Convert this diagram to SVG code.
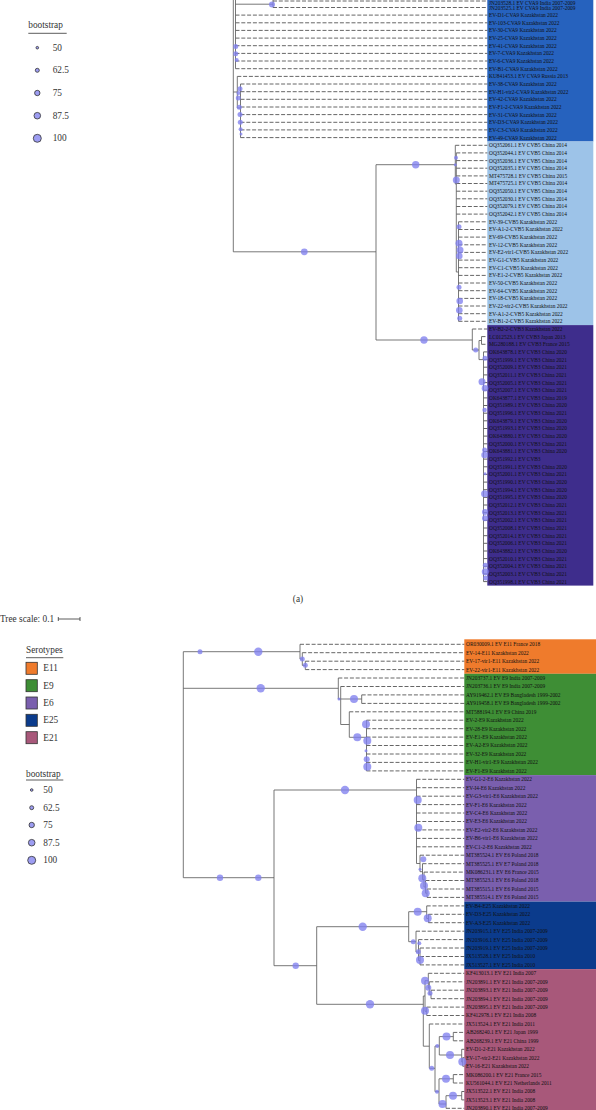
<svg xmlns="http://www.w3.org/2000/svg" width="596" height="1110" viewBox="0 0 596 1110">
<style>
.lb{font-family:"Liberation Serif",serif;font-size:5.4px;fill:#111}
.lg{font-family:"Liberation Serif",serif;font-size:9.3px;fill:#333}
.br{fill:none;stroke:#5f5f5f;stroke-width:0.85}
.ds{fill:none;stroke:#333;stroke-width:0.75;stroke-dasharray:4 1.8}
.bs{fill:#8080ee;fill-opacity:0.78}
.lgd{fill:#9d9df2;stroke:#333;stroke-width:0.8}
.ul{stroke:#333;stroke-width:0.8}
.sw{stroke:#333;stroke-width:0.8}
</style>
<rect width="596" height="1110" fill="#fff"/>
<g id="boxes">
<rect x="487.3" y="-2" width="106" height="143.5" fill="#2662be"/>
<rect x="487.3" y="141.5" width="106" height="183.6" fill="#9dc3e8"/>
<rect x="487.3" y="325.1" width="106" height="260.5" fill="#3e2d8c"/>
<rect x="464.3" y="639.3" width="131.7" height="34.5" fill="#ef7b2c"/>
<rect x="464.3" y="673.8" width="131.7" height="101.3" fill="#3e8e35"/>
<rect x="464.3" y="775.1" width="131.7" height="126.5" fill="#7a5fae"/>
<rect x="464.3" y="901.6" width="131.7" height="67.5" fill="#0b3b8c"/>
<rect x="464.3" y="969.1" width="131.7" height="145" fill="#a8587a"/>
</g>
<g id="connectors">
<path class="ds" d="M273 1H487.3M273 7.5H487.3M235.5 15.1H487.3M235.5 22.8H487.3M235.5 30.4H487.3M235.5 38.1H487.3M235.5 45.7H487.3M235.5 53.4H487.3M235.5 61H487.3M235.5 68.7H487.3M237.3 76.4H487.3M240.5 84H487.3M240.5 91.7H487.3M240.5 99.3H487.3M240.5 107H487.3M240.5 114.6H487.3M240.5 122.3H487.3M240.5 129.9H487.3M240.5 137.6H487.3M455.3 145.3H487.3M456.3 152.9H487.3M456.3 160.6H487.3M456.3 168.2H487.3M456.3 175.9H487.3M456.3 183.5H487.3M456.3 191.2H487.3M456.3 198.8H487.3M456.3 206.5H487.3M456.3 214.1H487.3M458.5 221.8H487.3M458.5 229.5H487.3M458.5 237.1H487.3M458.5 244.8H487.3M458.5 252.4H487.3M458.5 260.1H487.3M458.5 267.7H487.3M458.5 275.4H487.3M458.5 283H487.3M458.5 290.7H487.3M458.5 298.4H487.3M458.5 306H487.3M458.5 313.7H487.3M458.5 321.3H487.3M472.3 329H487.3M481.5 336.6H487.3M481.5 344.3H487.3M483.5 351.9H487.3M483.5 359.6H487.3M483.5 367.2H487.3M483.5 374.9H487.3M483.5 382.6H487.3M483.5 390.2H487.3M483.5 397.9H487.3M483.5 405.5H487.3M483.5 413.2H487.3M483.5 420.8H487.3M483.5 428.5H487.3M483.5 436.1H487.3M483.5 443.8H487.3M483.5 451.5H487.3M483.5 459.1H487.3M483.5 466.8H487.3M483.5 474.4H487.3M483.5 482.1H487.3M483.5 489.7H487.3M483.5 497.4H487.3M483.5 505H487.3M483.5 512.7H487.3M483.5 520.3H487.3M483.5 528H487.3M483.5 535.7H487.3M483.5 543.3H487.3M483.5 551H487.3M483.5 558.6H487.3M483.5 566.3H487.3M483.5 573.9H487.3M483.5 581.6H487.3"/>
<path class="br" d="M233.3 0V251.8M233.3 251.8H376M376 164.7V340M376 164.7H455.3M376 340H472.3M235.5 0V68.7M235.5 4.2H273M273 0V7.5M233.3 92H237.3M237.3 76.4V108M237.3 108H240.5M240.5 84V137.6M455.3 145.3V184M455.3 184H456.3M456.3 152.9V272M456.3 272H458.5M458.5 221.8V321.3M472.3 329V350M472.3 350H479M479 340.5V359.6M479 340.5H481.5M481.5 336.6V344.3M479 359.6H483.5M483.5 351.9V581.6"/>
<path class="ds" d="M300 644.3H464.3M302.3 652.7H464.3M305.3 661.2H464.3M305.3 669.6H464.3M338.3 678H464.3M340.7 686.5H464.3M361.7 694.9H464.3M361.7 703.4H464.3M349.3 711.8H464.3M366.5 720.2H464.3M366.5 728.7H464.3M366.5 737.1H464.3M366.5 745.5H464.3M366.5 754H464.3M366.5 762.4H464.3M366.5 770.9H464.3M416.5 779.3H464.3M416.5 787.7H464.3M416.5 796.2H464.3M416.5 804.6H464.3M416.5 813H464.3M416.5 821.5H464.3M416.5 829.9H464.3M416.5 838.4H464.3M416.5 846.8H464.3M420 855.2H464.3M422.5 863.7H464.3M424 872.1H464.3M425.5 880.5H464.3M427 889H464.3M427 897.4H464.3M426.7 905.9H464.3M428.5 914.3H464.3M428.5 922.7H464.3M416 931.2H464.3M418.5 939.6H464.3M420 948H464.3M420 956.5H464.3M420 964.9H464.3M428.3 973.3H464.3M429.3 981.8H464.3M431 990.2H464.3M431 998.7H464.3M426.7 1007.1H464.3M426.7 1015.5H464.3M429.3 1024H464.3M453.3 1032.4H464.3M453.3 1040.8H464.3M461.7 1049.3H464.3M462.7 1057.7H464.3M462.7 1066.2H464.3M453.3 1074.6H464.3M453.3 1083H464.3M461.7 1091.5H464.3M461.7 1099.9H464.3M446 1108.3H464.3"/>
<path class="br" d="M183.3 651.7V877.7M183.3 651.7H300M300 644.3V659M300 659H302.3M302.3 652.7V665.4M302.3 665.4H305.3M305.3 661.2V669.6M183.3 688.3H338.3M338.3 678V699M338.3 699H361.7M340.7 686.5V724.5M361.7 694.9V703.4M340.7 724.5H349.3M349.3 711.8V737.3M349.3 737.3H366.5M366.5 720.2V770.9M183.3 877.7H274M274 790V965.7M274 790H416.5M416.5 779.3V863.5M416.5 863.5H420M420 855.2V871.7M420 871.7H422.5M422.5 863.7V879.7M422.5 879.7H424M424 872.1V887M424 887H425.5M425.5 880.5V893.2M425.5 893.2H427M427 889V897.4M274 965.7H316.7M316.7 926.7V1004.3M316.7 926.7H408.7M408.7 911.7V941.7M408.7 911.7H426.7M426.7 905.9V918.5M426.7 918.5H428.5M428.5 914.3V922.7M408.7 941.7H416M416 931.2V952M416 952H418.5M418.5 939.6V960.5M418.5 960.5H420M420 948V964.9M316.7 1004.3H423.3M423.3 996V1046.2M423.3 996H425M425 980.7V1011.3M425 980.7H428.3M428.3 973.3V988.1M428.3 988.1H429.3M429.3 981.8V994.4M429.3 994.4H431M431 990.2V998.7M425 1011.3H426.7M426.7 1007.1V1015.5M423.3 1046.2H429.3M429.3 1024V1068.3M429.3 1068.3H435M435 1046V1091.7M435 1046H439.3M439.3 1036.6V1055M439.3 1036.6H453.3M453.3 1032.4V1040.8M439.3 1055H461.7M461.7 1049.3V1062M461.7 1062H462.7M462.7 1057.7V1066.2M435 1091.7H439M439 1078.8V1104M439 1078.8H453.3M453.3 1074.6V1083M439 1104H446M446 1095.7V1108.3M446 1095.7H461.7M461.7 1091.5V1099.9"/>
</g>
<g id="bootstrap-dots">
<circle class="bs" cx="272" cy="4.6" r="3"/><circle class="bs" cx="235.7" cy="46.6" r="2.5"/><circle class="bs" cx="235.7" cy="53.8" r="2.5"/><circle class="bs" cx="236.7" cy="60" r="2"/><circle class="bs" cx="240" cy="88.7" r="2.5"/><circle class="bs" cx="238.5" cy="93" r="2"/><circle class="bs" cx="238.3" cy="98" r="2.5"/><circle class="bs" cx="239.3" cy="107.3" r="2.5"/><circle class="bs" cx="240" cy="114.6" r="2.5"/><circle class="bs" cx="240.3" cy="122.3" r="2.5"/><circle class="bs" cx="240.6" cy="129.2" r="2"/><circle class="bs" cx="241" cy="134" r="1.5"/>
<circle class="bs" cx="304.3" cy="251.8" r="3.4"/><circle class="bs" cx="415.7" cy="164.7" r="3.7"/><circle class="bs" cx="424" cy="340" r="3.7"/>
<circle class="bs" cx="456" cy="157.7" r="2"/><circle class="bs" cx="455.3" cy="164.7" r="1.5"/><circle class="bs" cx="456.3" cy="180" r="3.5"/><circle class="bs" cx="459" cy="226.7" r="2.5"/><circle class="bs" cx="459" cy="243.3" r="3.5"/><circle class="bs" cx="460" cy="250" r="3.5"/><circle class="bs" cx="459.3" cy="256" r="3.3"/><circle class="bs" cx="459" cy="287.3" r="2.5"/><circle class="bs" cx="459.7" cy="301" r="3.3"/><circle class="bs" cx="459.3" cy="310.3" r="3.3"/><circle class="bs" cx="459.7" cy="318.3" r="2.5"/>
<circle class="bs" cx="475.7" cy="350" r="2.5"/><circle class="bs" cx="485" cy="358.3" r="2.5"/><circle class="bs" cx="482" cy="381.7" r="3.5"/><circle class="bs" cx="485" cy="388.3" r="3.3"/><circle class="bs" cx="484.6" cy="410" r="2.3"/><circle class="bs" cx="484.6" cy="450" r="2.5"/><circle class="bs" cx="484.6" cy="455" r="3.3"/><circle class="bs" cx="485" cy="473.8" r="1.5"/><circle class="bs" cx="484.6" cy="493.8" r="3.5"/><circle class="bs" cx="485" cy="512" r="3"/><circle class="bs" cx="485" cy="518.3" r="3"/><circle class="bs" cx="485.3" cy="565.3" r="2.5"/><circle class="bs" cx="485.3" cy="571.7" r="3.5"/><circle class="bs" cx="485.6" cy="578" r="2.5"/>
<circle class="bs" cx="200" cy="651.7" r="2.5"/><circle class="bs" cx="258.3" cy="651.7" r="4.2"/><circle class="bs" cx="302.3" cy="659" r="2.5"/><circle class="bs" cx="305.3" cy="665.2" r="2.5"/>
<circle class="bs" cx="260.7" cy="688.3" r="4.2"/><circle class="bs" cx="339" cy="699" r="1.5"/><circle class="bs" cx="354" cy="699" r="4"/><circle class="bs" cx="357.3" cy="737.3" r="4"/><circle class="bs" cx="366" cy="724.3" r="4"/><circle class="bs" cx="367.3" cy="740.7" r="4"/><circle class="bs" cx="366" cy="750.7" r="1.5"/><circle class="bs" cx="366.7" cy="759.3" r="3"/><circle class="bs" cx="367.3" cy="766.7" r="4"/>
<circle class="bs" cx="220" cy="877.7" r="3.2"/><circle class="bs" cx="258.3" cy="877.7" r="3.2"/><circle class="bs" cx="345" cy="790" r="4.2"/><circle class="bs" cx="295.7" cy="965.7" r="3.2"/><circle class="bs" cx="362.7" cy="926.7" r="4.2"/><circle class="bs" cx="370" cy="1004.3" r="4.2"/>
<circle class="bs" cx="417.7" cy="800" r="4"/><circle class="bs" cx="418.3" cy="827.7" r="4"/><circle class="bs" cx="423.3" cy="859.3" r="3"/><circle class="bs" cx="420" cy="869.3" r="1.5"/><circle class="bs" cx="422.3" cy="878.3" r="4"/><circle class="bs" cx="424" cy="885.7" r="4"/><circle class="bs" cx="425.7" cy="893.3" r="4"/>
<circle class="bs" cx="417.7" cy="911.7" r="4"/><circle class="bs" cx="427.7" cy="918.3" r="4"/><circle class="bs" cx="413.3" cy="941.7" r="2.5"/><circle class="bs" cx="419.3" cy="943.3" r="2"/><circle class="bs" cx="418.3" cy="951.7" r="2.5"/><circle class="bs" cx="420" cy="960" r="4"/>
<circle class="bs" cx="425" cy="980.7" r="4"/><circle class="bs" cx="428.3" cy="987.7" r="3"/><circle class="bs" cx="430" cy="993.3" r="2.5"/><circle class="bs" cx="425" cy="1010.7" r="4"/><circle class="bs" cx="431.7" cy="1068.3" r="2.5"/><circle class="bs" cx="437.3" cy="1046" r="2"/><circle class="bs" cx="446.5" cy="1036.6" r="4"/><circle class="bs" cx="450" cy="1055" r="4"/><circle class="bs" cx="462.3" cy="1061.7" r="4"/><circle class="bs" cx="437" cy="1091.7" r="2"/><circle class="bs" cx="446" cy="1078.8" r="4"/><circle class="bs" cx="453" cy="1095.7" r="4"/><circle class="bs" cx="442.5" cy="1104" r="4"/>
</g>
<g id="leaves-a" class="lb">
<g id="a0"><text x="489" y="4.6">JN203528.1 EV CVA9 India 2007-2009</text></g>
<g id="a1"><text x="489" y="9.8">JN203525.1 EV CVA9 India 2007-2009</text></g>
<g id="a2"><text x="489" y="17">EV-D1-CVA9 Kazakhstan 2022</text></g>
<g id="a3"><text x="489" y="24.7">EV-103-CVA9 Kazakhstan 2022</text></g>
<g id="a4"><text x="489" y="32.3">EV-30-CVA9 Kazakhstan 2022</text></g>
<g id="a5"><text x="489" y="40">EV-25-CVA9 Kazakhstan 2022</text></g>
<g id="a6"><text x="489" y="47.6">EV-41-CVA9 Kazakhstan 2022</text></g>
<g id="a7"><text x="489" y="55.3">EV-7-CVA9 Kazakhstan 2022</text></g>
<g id="a8"><text x="489" y="62.9">EV-6-CVA9 Kazakhstan 2022</text></g>
<g id="a9"><text x="489" y="70.6">EV-B1-CVA9 Kazakhstan 2022</text></g>
<g id="a10"><text x="489" y="78.3">KU841453.1 EV CVA9 Russia 2013</text></g>
<g id="a11"><text x="489" y="85.9">EV-38-CVA9 Kazakhstan 2022</text></g>
<g id="a12"><text x="489" y="93.6">EV-H1-vir2-CVA9 Kazakhstan 2022</text></g>
<g id="a13"><text x="489" y="101.2">EV-42-CVA9 Kazakhstan 2022</text></g>
<g id="a14"><text x="489" y="108.9">EV-F1-2-CVA9 Kazakhstan 2022</text></g>
<g id="a15"><text x="489" y="116.5">EV-31-CVA9 Kazakhstan 2022</text></g>
<g id="a16"><text x="489" y="124.2">EV-D3-CVA9 Kazakhstan 2022</text></g>
<g id="a17"><text x="489" y="131.8">EV-C3-CVA9 Kazakhstan 2022</text></g>
<g id="a18"><text x="489" y="139.5">EV-49-CVA9 Kazakhstan 2022</text></g>
<g id="a19"><text x="489" y="147.2">OQ352061.1 EV CVB5 China 2014</text></g>
<g id="a20"><text x="489" y="154.8">OQ352044.1 EV CVB5 China 2014</text></g>
<g id="a21"><text x="489" y="162.5">OQ352036.1 EV CVB5 China 2014</text></g>
<g id="a22"><text x="489" y="170.1">OQ352035.1 EV CVB5 China 2014</text></g>
<g id="a23"><text x="489" y="177.8">MT475728.1 EV CVB5 China 2015</text></g>
<g id="a24"><text x="489" y="185.4">MT475725.1 EV CVB5 China 2014</text></g>
<g id="a25"><text x="489" y="193.1">OQ352050.1 EV CVB5 China 2014</text></g>
<g id="a26"><text x="489" y="200.7">OQ352030.1 EV CVB5 China 2014</text></g>
<g id="a27"><text x="489" y="208.4">OQ352079.1 EV CVB5 China 2014</text></g>
<g id="a28"><text x="489" y="216">OQ352042.1 EV CVB5 China 2014</text></g>
<g id="a29"><text x="489" y="223.7">EV-39-CVB5 Kazakhstan 2022</text></g>
<g id="a30"><text x="489" y="231.4">EV-A1-2-CVB5 Kazakhstan 2022</text></g>
<g id="a31"><text x="489" y="239">EV-69-CVB5 Kazakhstan 2022</text></g>
<g id="a32"><text x="489" y="246.7">EV-12-CVB5 Kazakhstan 2022</text></g>
<g id="a33"><text x="489" y="254.3">EV-E2-vir1-CVB5 Kazakhstan 2022</text></g>
<g id="a34"><text x="489" y="262">EV-G1-CVB5 Kazakhstan 2022</text></g>
<g id="a35"><text x="489" y="269.6">EV-C1-CVB5 Kazakhstan 2022</text></g>
<g id="a36"><text x="489" y="277.3">EV-E1-2-CVB5 Kazakhstan 2022</text></g>
<g id="a37"><text x="489" y="284.9">EV-50-CVB5 Kazakhstan 2022</text></g>
<g id="a38"><text x="489" y="292.6">EV-64-CVB5 Kazakhstan 2022</text></g>
<g id="a39"><text x="489" y="300.3">EV-18-CVB5 Kazakhstan 2022</text></g>
<g id="a40"><text x="489" y="307.9">EV-22-vir2-CVB5 Kazakhstan 2022</text></g>
<g id="a41"><text x="489" y="315.6">EV-A1-2-CVB5 Kazakhstan 2022</text></g>
<g id="a42"><text x="489" y="323.2">EV-B1-2-CVB5 Kazakhstan 2022</text></g>
<g id="a43"><text x="489" y="330.9">EV-B2-2-CVB3 Kazakhstan 2022</text></g>
<g id="a44"><text x="489" y="338.5">LC012523.1 EV CVB3 Japan 2013</text></g>
<g id="a45"><text x="489" y="346.2">MG280188.1 EV CVB3 France 2015</text></g>
<g id="a46"><text x="489" y="353.8">OK643878.1 EV CVB3 China 2020</text></g>
<g id="a47"><text x="489" y="361.5">OQ351999.1 EV CVB3 China 2021</text></g>
<g id="a48"><text x="489" y="369.1">OQ352009.1 EV CVB3 China 2021</text></g>
<g id="a49"><text x="489" y="376.8">OQ352011.1 EV CVB3 China 2021</text></g>
<g id="a50"><text x="489" y="384.5">OQ352005.1 EV CVB3 China 2021</text></g>
<g id="a51"><text x="489" y="392.1">OQ352007.1 EV CVB3 China 2021</text></g>
<g id="a52"><text x="489" y="399.8">OK643877.1 EV CVB3 China 2019</text></g>
<g id="a53"><text x="489" y="407.4">OQ351989.1 EV CVB3 China 2020</text></g>
<g id="a54"><text x="489" y="415.1">OQ351996.1 EV CVB3 China 2021</text></g>
<g id="a55"><text x="489" y="422.7">OK643879.1 EV CVB3 China 2020</text></g>
<g id="a56"><text x="489" y="430.4">OQ351993.1 EV CVB3 China 2020</text></g>
<g id="a57"><text x="489" y="438">OK643880.1 EV CVB3 China 2020</text></g>
<g id="a58"><text x="489" y="445.7">OQ352000.1 EV CVB3 China 2021</text></g>
<g id="a59"><text x="489" y="453.4">OK643881.1 EV CVB3 China 2020</text></g>
<g id="a60"><text x="489" y="461">OQ351992.1 EV CVB3</text></g>
<g id="a61"><text x="489" y="468.7">OQ351991.1 EV CVB3 China 2020</text></g>
<g id="a62"><text x="489" y="476.3">OQ352001.1 EV CVB3 China 2021</text></g>
<g id="a63"><text x="489" y="484">OQ351990.1 EV CVB3 China 2020</text></g>
<g id="a64"><text x="489" y="491.6">OQ351994.1 EV CVB3 China 2020</text></g>
<g id="a65"><text x="489" y="499.3">OQ351995.1 EV CVB3 China 2020</text></g>
<g id="a66"><text x="489" y="506.9">OQ352012.1 EV CVB3 China 2021</text></g>
<g id="a67"><text x="489" y="514.6">OQ352013.1 EV CVB3 China 2021</text></g>
<g id="a68"><text x="489" y="522.2">OQ352002.1 EV CVB3 China 2021</text></g>
<g id="a69"><text x="489" y="529.9">OQ352008.1 EV CVB3 China 2021</text></g>
<g id="a70"><text x="489" y="537.6">OQ352014.1 EV CVB3 China 2021</text></g>
<g id="a71"><text x="489" y="545.2">OQ352006.1 EV CVB3 China 2021</text></g>
<g id="a72"><text x="489" y="552.9">OK643882.1 EV CVB3 China 2020</text></g>
<g id="a73"><text x="489" y="560.5">OQ352010.1 EV CVB3 China 2021</text></g>
<g id="a74"><text x="489" y="568.2">OQ352004.1 EV CVB3 China 2021</text></g>
<g id="a75"><text x="489" y="575.8">OQ352003.1 EV CVB3 China 2021</text></g>
<g id="a76"><text x="489" y="583.5">OQ351998.1 EV CVB3 China 2021</text></g>
</g>
<g id="leaves-b" class="lb">
<g id="b0"><text x="466" y="646.2">OR030009.1 EV E11 France 2018</text></g>
<g id="b1"><text x="466" y="654.6">EV-14-E11 Kazakhstan 2022</text></g>
<g id="b2"><text x="466" y="663.1">EV-17-vir1-E11 Kazakhstan 2022</text></g>
<g id="b3"><text x="466" y="671.5">EV-22-vir1-E11 Kazakhstan 2022</text></g>
<g id="b4"><text x="466" y="680">JN203737.1 EV E9 India 2007-2009</text></g>
<g id="b5"><text x="466" y="688.4">JN203736.1 EV E9 India 2007-2009</text></g>
<g id="b6"><text x="466" y="696.8">AY919462.1 EV E9 Bangladesh 1999-2002</text></g>
<g id="b7"><text x="466" y="705.3">AY919458.1 EV E9 Bangladesh 1999-2002</text></g>
<g id="b8"><text x="466" y="713.7">MT588194.1 EV E9 China 2019</text></g>
<g id="b9"><text x="466" y="722.1">EV-2-E9 Kazakhstan 2022</text></g>
<g id="b10"><text x="466" y="730.6">EV-28-E9 Kazakhstan 2022</text></g>
<g id="b11"><text x="466" y="739">EV-E1-E9 Kazakhstan 2022</text></g>
<g id="b12"><text x="466" y="747.4">EV-A2-E9 Kazakhstan 2022</text></g>
<g id="b13"><text x="466" y="755.9">EV-32-E9 Kazakhstan 2022</text></g>
<g id="b14"><text x="466" y="764.3">EV-H1-vir1-E9 Kazakhstan 2022</text></g>
<g id="b15"><text x="466" y="772.8">EV-F1-E9 Kazakhstan 2022</text></g>
<g id="b16"><text x="466" y="781.2">EV-G1-2-E6 Kazakhstan 2022</text></g>
<g id="b17"><text x="466" y="789.6">EV-I4-E6 Kazakhstan 2022</text></g>
<g id="b18"><text x="466" y="798.1">EV-G3-vir1-E6 Kazakhstan 2022</text></g>
<g id="b19"><text x="466" y="806.5">EV-F1-E6 Kazakhstan 2022</text></g>
<g id="b20"><text x="466" y="814.9">EV-C4-E6 Kazakhstan 2022</text></g>
<g id="b21"><text x="466" y="823.4">EV-E3-E6 Kazakhstan 2022</text></g>
<g id="b22"><text x="466" y="831.8">EV-E2-vir2-E6 Kazakhstan 2022</text></g>
<g id="b23"><text x="466" y="840.3">EV-B6-vir1-E6 Kazakhstan 2022</text></g>
<g id="b24"><text x="466" y="848.7">EV-C1-2-E6 Kazakhstan 2022</text></g>
<g id="b25"><text x="466" y="857.1">MT385524.1 EV E6 Poland 2018</text></g>
<g id="b26"><text x="466" y="865.6">MT385525.1 EV E7 Poland 2018</text></g>
<g id="b27"><text x="466" y="874">MK086231.1 EV E6 France 2015</text></g>
<g id="b28"><text x="466" y="882.4">MT385523.1 EV E6 Poland 2018</text></g>
<g id="b29"><text x="466" y="890.9">MT385515.1 EV E6 Poland 2015</text></g>
<g id="b30"><text x="466" y="899.3">MT385514.1 EV E6 Poland 2015</text></g>
<g id="b31"><text x="466" y="907.8">EV-B4-E25 Kazakhstan 2022</text></g>
<g id="b32"><text x="466" y="916.2">EV-D3-E25 Kazakhstan 2022</text></g>
<g id="b33"><text x="466" y="924.6">EV-A3-E25 Kazakhstan 2022</text></g>
<g id="b34"><text x="466" y="933.1">JN203915.1 EV E25 India 2007-2009</text></g>
<g id="b35"><text x="466" y="941.5">JN203916.1 EV E25 India 2007-2009</text></g>
<g id="b36"><text x="466" y="949.9">JN203919.1 EV E25 India 2007-2009</text></g>
<g id="b37"><text x="466" y="958.4">JX513528.1 EV E25 India 2010</text></g>
<g id="b38"><text x="466" y="966.8">JX513527.1 EV E25 India 2010</text></g>
<g id="b39"><text x="466" y="975.2">KF413013.1 EV E21 India 2007</text></g>
<g id="b40"><text x="466" y="983.7">JN203891.1 EV E21 India 2007-2009</text></g>
<g id="b41"><text x="466" y="992.1">JN203893.1 EV E21 India 2007-2009</text></g>
<g id="b42"><text x="466" y="1000.6">JN203894.1 EV E21 India 2007-2009</text></g>
<g id="b43"><text x="466" y="1009">JN203895.1 EV E21 India 2007-2009</text></g>
<g id="b44"><text x="466" y="1017.4">KF412978.1 EV E21 India 2008</text></g>
<g id="b45"><text x="466" y="1025.9">JX513524.1 EV E21 India 2011</text></g>
<g id="b46"><text x="466" y="1034.3">AB268240.1 EV E21 Japan 1999</text></g>
<g id="b47"><text x="466" y="1042.7">AB268239.1 EV E21 China 1999</text></g>
<g id="b48"><text x="466" y="1051.2">EV-D1-2-E21 Kazakhstan 2022</text></g>
<g id="b49"><text x="466" y="1059.6">EV-17-vir2-E21 Kazakhstan 2022</text></g>
<g id="b50"><text x="466" y="1068.1">EV-16-E21 Kazakhstan 2022</text></g>
<g id="b51"><text x="466" y="1076.5">MK086200.1 EV E21 France 2015</text></g>
<g id="b52"><text x="466" y="1084.9">KU561044.1 EV E21 Netherlands 2011</text></g>
<g id="b53"><text x="466" y="1093.4">JX513522.1 EV E21 India 2008</text></g>
<g id="b54"><text x="466" y="1101.8">JX513523.1 EV E21 India 2008</text></g>
<g id="b55"><text x="466" y="1109.6">JN203890.1 EV E21 India 2007-2009</text></g>
</g>
<g id="legend-a" class="lg">
<text x="28.3" y="28">bootstrap</text>
<line class="ul" x1="28.3" y1="33.3" x2="66.7" y2="33.3"/>
<circle class="lgd" cx="37.3" cy="47.7" r="1.3"/><text x="52.7" y="50.7">50</text>
<circle class="lgd" cx="37.3" cy="70.3" r="2"/><text x="52.7" y="73.3">62.5</text>
<circle class="lgd" cx="37.3" cy="93" r="2.7"/><text x="52.7" y="96">75</text>
<circle class="lgd" cx="37.3" cy="115.7" r="3.3"/><text x="52.7" y="118.7">87.5</text>
<circle class="lgd" cx="37.3" cy="138.3" r="4"/><text x="52.7" y="141.3">100</text>
</g>
<g id="caption-a" class="lg"><text x="298" y="601.5" text-anchor="middle">(a)</text></g>
<g id="tree-scale" class="lg">
<text x="0" y="622">Tree scale: 0.1</text>
<path class="ul" d="M58.3 619H80M58.3 617V621M80 617V621" fill="none"/>
</g>
<g id="legend-b" class="lg">
<text x="26" y="653">Serotypes</text>
<line class="ul" x1="26" y1="657.7" x2="63.3" y2="657.7"/>
<rect class="sw" x="26" y="662.3" width="11.3" height="12" fill="#ef7b2c"/><text x="43.3" y="671.3">E11</text>
<rect class="sw" x="26" y="679.7" width="11.3" height="12" fill="#3e8e35"/><text x="43.3" y="688.7">E9</text>
<rect class="sw" x="26" y="697" width="11.3" height="12" fill="#7a5fae"/><text x="43.3" y="706">E6</text>
<rect class="sw" x="26" y="714.3" width="11.3" height="12" fill="#0b3b8c"/><text x="43.3" y="723.3">E25</text>
<rect class="sw" x="26" y="731.7" width="11.3" height="12" fill="#a8587a"/><text x="43.3" y="740.7">E21</text>
<text x="26" y="776.5">bootstrap</text>
<line class="ul" x1="26" y1="780" x2="63.3" y2="780"/>
<circle class="lgd" cx="31.7" cy="790" r="1.3"/><text x="43.3" y="793">50</text>
<circle class="lgd" cx="31.7" cy="807.7" r="2"/><text x="43.3" y="810.7">62.5</text>
<circle class="lgd" cx="31.7" cy="825" r="2.7"/><text x="43.3" y="828">75</text>
<circle class="lgd" cx="31.7" cy="842.7" r="3.3"/><text x="43.3" y="845.7">87.5</text>
<circle class="lgd" cx="31.7" cy="860.3" r="4"/><text x="43.3" y="863.3">100</text>
</g>
</svg>
